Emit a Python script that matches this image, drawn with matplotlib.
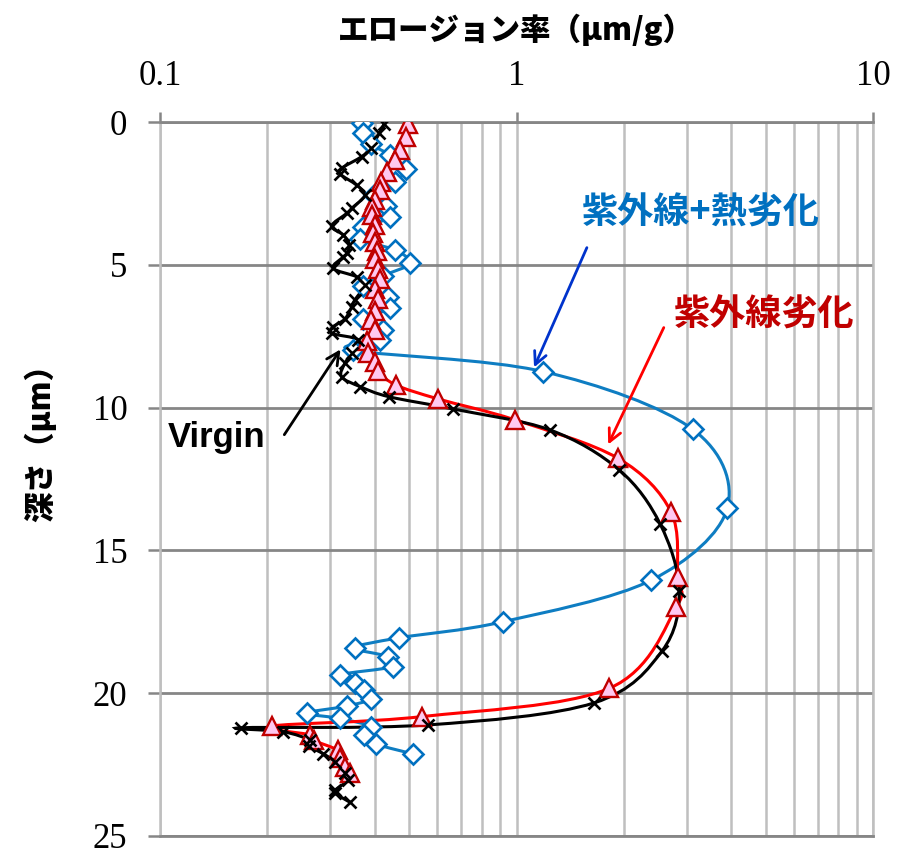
import numpy as np
import matplotlib
matplotlib.use("Agg")
import matplotlib.pyplot as plt
from matplotlib.path import Path
from matplotlib.patches import PathPatch

plt.rcParams['font.family'] = ['Noto Sans CJK JP', 'DejaVu Sans']

# Virgin
virgin_depth = [0.07, 0.40, 0.9, 1.21, 1.62, 1.82, 2.21, 2.56, 3.02, 3.20, 3.64, 3.96, 4.3, 4.60, 4.72,
                5.12, 5.42, 5.71, 6.23, 6.47, 6.9, 7.17, 7.40, 7.63, 8.1, 8.45, 8.92, 9.27, 9.62, 10.05,
                10.78, 12.18, 14.08, 16.41, 18.52, 20.34, 21.11, 21.21, 21.35, 21.65, 21.85, 22.12, 22.4,
                22.8, 23.04, 23.39, 23.5, 23.82]
virgin_rate = [0.425, 0.412, 0.39, 0.368, 0.323, 0.320, 0.356, 0.376, 0.345, 0.334, 0.303, 0.327, 0.34,
               0.334, 0.327, 0.306, 0.356, 0.375, 0.352, 0.345, 0.33, 0.306, 0.303, 0.36, 0.345, 0.33,
               0.323, 0.365, 0.439, 0.665, 1.24, 1.94, 2.53, 2.86, 2.56, 1.65, 0.566, 0.169, 0.222,
               0.264, 0.262, 0.287, 0.31, 0.33, 0.337, 0.31, 0.31, 0.341]

# 紫外線劣化
uv_depth = [0.06, 0.52, 0.99, 1.34, 1.75, 2.1, 2.39, 2.74, 2.97, 3.26, 3.6, 3.9, 4.2, 4.5, 4.8, 5.15,
            5.5, 5.85, 6.2, 6.63, 6.95, 7.27, 7.68, 8.09, 8.4, 8.73, 9.21, 9.7, 10.43, 11.78, 13.64,
            15.92, 16.98, 19.83, 20.82, 21.15, 21.46, 21.65, 22.0, 22.28, 22.57, 22.8]
uv_rate = [0.497, 0.49, 0.47, 0.456, 0.432, 0.418, 0.414, 0.40, 0.393, 0.393, 0.40, 0.397, 0.40, 0.405,
           0.40, 0.41, 0.415, 0.40, 0.41, 0.401, 0.39, 0.40, 0.38, 0.384, 0.40, 0.409, 0.459, 0.604,
           0.99, 1.93, 2.71, 2.83, 2.81, 1.82, 0.542, 0.206, 0.264, 0.27, 0.316, 0.32, 0.33, 0.341]

# 紫外線+熱劣化
uvh_depth = [0.05, 0.40, 0.78, 1.16, 1.65, 2.09, 2.56, 2.94, 3.34, 3.69, 4.11, 4.48, 4.95, 5.38, 5.73,
             6.12, 6.52, 6.91, 7.28, 7.63, 8.0, 8.74, 10.76, 13.53, 16.04, 17.5, 18.06, 18.41, 18.72,
             19.07, 19.36, 19.63, 19.89, 20.20, 20.45, 20.70, 20.88, 21.17, 21.46, 21.78, 22.13]
uvh_rate = [0.368, 0.372, 0.391, 0.442, 0.489, 0.456, 0.398, 0.430, 0.442, 0.372, 0.364, 0.456, 0.502,
            0.423, 0.372, 0.435, 0.442, 0.372, 0.423, 0.414, 0.348, 1.19, 3.12, 3.90, 2.39, 0.915,
            0.469, 0.353, 0.436, 0.449, 0.319, 0.352, 0.374, 0.391, 0.334, 0.258, 0.319, 0.390, 0.374,
            0.404, 0.514]

y_ticks = [0, 5, 10, 15, 20, 25]


def smooth_path(xs, ys):
    # excel style smoothed line: catmull-rom segments as cubic beziers in log-x space
    u = np.log10(np.asarray(xs, float))
    v = np.asarray(ys, float)
    pts = np.column_stack([u, v])
    n = len(pts)
    verts = [pts[0]]
    codes = [Path.MOVETO]
    for i in range(n - 1):
        p0 = pts[max(i - 1, 0)]
        p1 = pts[i]
        p2 = pts[i + 1]
        p3 = pts[min(i + 2, n - 1)]
        c1 = p1 + (p2 - p0) / 6.0
        c2 = p2 - (p3 - p1) / 6.0
        verts += [c1, c2, p2]
        codes += [Path.CURVE4] * 3
    verts = np.array(verts)
    verts[:, 0] = 10 ** verts[:, 0]
    return Path(verts, codes)


fig = plt.figure(figsize=(8.97, 8.51), dpi=100)
ax = fig.add_axes([160 / 897, 1 - 836 / 851, 713 / 897, 714 / 851])
ax.set_xscale('log')
ax.set_xlim(0.1, 10)
ax.set_ylim(25, 0)

blue = '#0E7DC2'
ax.add_patch(PathPatch(smooth_path(uvh_rate, uvh_depth), fill=False, edgecolor=blue, lw=2.2, zorder=3))
ax.add_patch(PathPatch(smooth_path(uv_rate, uv_depth), fill=False, edgecolor='#FF0000', lw=2.2, zorder=4))
ax.add_patch(PathPatch(smooth_path(virgin_rate, virgin_depth), fill=False, edgecolor='black', lw=2.2, zorder=5))

ax.plot(uvh_rate, uvh_depth, ls='none', marker='D', ms=10, mfc='white', mec='#0070C0', mew=1.9, zorder=6)
ax.plot(uv_rate, uv_depth, ls='none', marker='^', ms=12.5, mfc='#FFC8F0', mec='#C00000', mew=1.7, zorder=7)
ax.plot(virgin_rate, virgin_depth, ls='none', marker='x', ms=8.5, mec='black', mew=1.9, zorder=8)

# axes styling
ax.xaxis.tick_top()
ax.set_xticks([0.1, 1, 10])
ax.set_xticklabels(['0.1', '1', '10'])
ax.set_yticks(y_ticks)
ax.tick_params(axis='x', which='major', direction='out', length=7, width=1.8, color='#868686', pad=14)
ax.tick_params(axis='x', which='minor', length=0)
ax.tick_params(axis='y', direction='out', length=8.5, width=1.8, color='#868686', pad=15)
for lab in ax.get_xticklabels() + ax.get_yticklabels():
    lab.set_fontfamily('Liberation Serif')
    lab.set_fontsize(25)

ax.grid(which='both', axis='x', color='#BFBFBF', lw=1.8)
ax.grid(which='major', axis='y', color='#868686', lw=2)
ax.set_axisbelow(True)
ax.spines['top'].set_color('#868686')
ax.spines['top'].set_linewidth(2)
ax.spines['bottom'].set_color('#868686')
ax.spines['bottom'].set_linewidth(2)
ax.spines['left'].set_color('#BFBFBF')
ax.spines['left'].set_linewidth(1.8)
ax.spines['right'].set_color('#BFBFBF')
ax.spines['right'].set_linewidth(1.8)

fig.text(516 / 897, 1 - 30 / 851, 'エロージョン率（μm/g）', ha='center', va='center',
         fontsize=22, fontweight='heavy')
fig.text(40 / 897, 1 - 435 / 851, '深さ（μm）', ha='center', va='center', rotation=90,
         fontsize=22, fontweight='heavy')

# labels with arrows
ax.annotate('', xy=(1.112, 8.68), xytext=(1.587, 4.31),
            arrowprops=dict(arrowstyle='->,head_length=0.9,head_width=0.45', color='#0033CC', lw=2))
ax.annotate('', xy=(1.794, 11.38), xytext=(2.609, 7.11),
            arrowprops=dict(arrowstyle='->,head_length=0.9,head_width=0.45', color='#FF0000', lw=2))
ax.annotate('', xy=(0.324, 7.88), xytext=(0.221, 11.03),
            arrowprops=dict(arrowstyle='->,head_length=0.9,head_width=0.45', color='black', lw=2))

ax.text(3.29, 3.19, '紫外線+熱劣化', color='#0070C0', fontsize=26, fontweight='bold',
        ha='center', va='center', zorder=10)
ax.text(4.95, 6.76, '紫外線劣化', color='#C00000', fontsize=26, fontweight='bold',
        ha='center', va='center', zorder=10)
ax.text(0.1445, 11.06, 'Virgin', color='black', fontsize=25, fontweight='bold',
        family='Liberation Sans', ha='center', va='center', zorder=10)

fig.savefig('out.png', dpi=100)
